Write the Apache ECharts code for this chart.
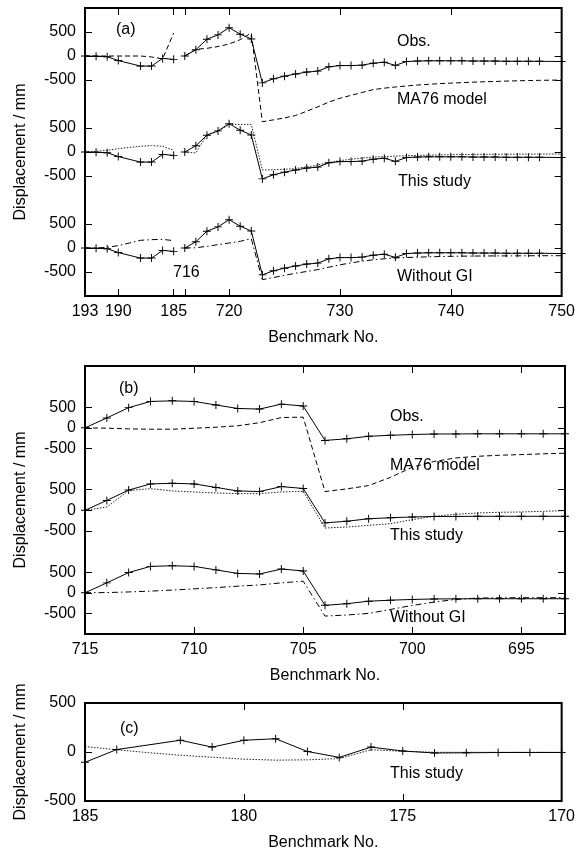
<!DOCTYPE html>
<html>
<head>
<meta charset="utf-8">
<script src="https://cdn.jsdelivr.net/npm/echarts@6/dist/echarts.min.js"></script>
<style>
html,body{margin:0;padding:0;background:#fff;}
#chart{width:578px;height:852px;}
</style>
</head>
<body>
<div id="chart"></div>
<script>
// ---------------- Panel (a) ----------------
const bmA = [193,192,191,190,188,187,186,185,
  716,717,718,719,720,721,722,723,724,725,726,727,728,729,730,731,732,733,734,735,736,737,738,739,740,741,742,743,744,745,746,747,748,750];
const obsA = [0,-5,-15,-95,-210,-210,-50,-70,
  0,130,350,440,590,455,355,-560,-475,-420,-375,-335,-315,-225,-200,-200,-190,-150,-130,-195,-115,-105,-100,-100,-100,-100,-105,-105,-105,-110,-110,-110,-110,-115];
const ma76A = [0,0,0,0,0,-20,-60,480,
  0,140,160,197,250,340,480,-1370,-1330,-1290,-1240,-1150,-1060,-960,-880,-820,-760,-700,-670,-645,-625,-605,-590,-575,-565,-555,-545,-537,-530,-523,-517,-512,-507,-500];
const thisA = [0,14,35,70,120,134,120,35,
  0,-20,360,430,575,575,575,-375,-370,-360,-345,-310,-270,-220,-180,-150,-125,-108,-95,-85,-77,-70,-65,-60,-56,-53,-51,-49,-47,-46,-45,-44,-43,-42];
const woGIA = [0,0,14,49,160,174,180,153,
  0,5,35,70,104,139,194,-660,-615,-570,-525,-490,-450,-400,-350,-310,-275,-245,-225,-208,-198,-190,-185,-178,-173,-170,-168,-166,-165,-164,-163,-162,-161,-160];
const xLabelsA = [193,190,185,720,730,740,750];
const xTicksA = [190,185,716,720,730,740];

// ---------------- Panel (b) ----------------
const bmB = [715,714,713,712,711,710,709,708,707,706,705,704,703,702,701,700,699,698,697,696,695,694,693];
const obsB = [0,240,490,640,655,640,555,470,455,575,530,-305,-265,-205,-180,-162,-150,-148,-145,-145,-145,-145,-145];
const ma76B = [0,-8,-25,-33,-33,-10,15,50,125,250,260,-1545,-1480,-1400,-1200,-955,-815,-730,-690,-665,-648,-630,-615];
const thisB = [0,80,480,525,470,445,420,405,405,445,460,-430,-405,-365,-325,-225,-145,-97,-65,-48,-40,-24,-8];
const woGIB = [0,5,20,40,65,95,125,160,190,240,280,-565,-540,-500,-405,-307,-226,-161,-129,-121,-120,-120,-120];
const xLabelsB = [715,710,705,700,695];

// ---------------- Panel (c) ----------------
const bmC = [185,184,182,181,180,179,178,177,176,175,174,173,172,171,170];
const obsC = [-105,25,120,50,120,135,5,-55,50,10,-10,-8,-5,-5,-5];
const bmCm = [185,184,183,182,181,180,179,178,177,176,175,174,173,172,171,170];
const thisC = [55,23,-7,-33,-53,-73,-83,-80,-67,23,7,-3,-3,-3,-3,-3];
const xLabelsC = [185,180,175,170];

const yLabelsGroup = [-500,0,500];
const groupOffsets = [0,2000,4000];

// ---------------- helpers ----------------
const FONT = "'Liberation Sans', Arial, Helvetica, sans-serif";
// broken axis of panel (a): 193..185 then 716..750
const toUA = b => (b >= 700 ? b - 707 : 193 - b);
const fromUA = u => (u <= 8 ? 193 - u : u + 707);

function build(bms, vals, offset, mapX, broken) {
  const out = [];
  for (let i = 0; i < bms.length; i++) {
    if (broken && i > 0 && (bms[i] >= 700) !== (bms[i-1] >= 700)) {
      out.push([(mapX(bms[i]) + mapX(bms[i-1])) / 2, null]);
    }
    out.push([mapX(bms[i]), vals[i] + offset]);
  }
  return out;
}
const ident = b => b;
const PLUS = 'path://M8.8,0 H11.2 V8.8 H20 V11.2 H11.2 V20 H8.8 V11.2 H0 V8.8 H8.8 Z';

function obsSeries(data) {
  return {type:'line', data, symbol:PLUS, symbolSize:8,
    showSymbol:true, connectNulls:false, lineStyle:{color:'#000', width:1},
    itemStyle:{color:'#000'}, z:5, silent:true, animation:false};
}
function modelSeries(data, dash, color) {
  return {type:'line', data, showSymbol:false, symbol:'none',
    connectNulls:false, lineStyle:{color:color||'#000', width:1, type:dash}, z:4, silent:true, animation:false};
}
const DASH = [5,3];
const DOT = [1.5,1.5];
const DASHDOT = [6,3,1.5,3];

const groupLabelVals = [];
groupOffsets.forEach(o => yLabelsGroup.forEach(v => groupLabelVals.push(v + o)));
const groupFmt = v => String((((v + 1000) % 2000) + 2000) % 2000 - 1000);

const tickStyle = {inside:true, length:7, lineStyle:{color:'#000', width:1}};
const labelStyle = {color:'#000', fontSize:16, fontFamily:FONT};

function xPair(gi, min, max, inverse, labelVals, tickVals, fmt, nameGap) {
  return [
    {type:'value', gridIndex:gi, min, max, inverse, position:'bottom',
     axisLine:{show:false, onZero:false}, splitLine:{show:false},
     axisTick:Object.assign({customValues:tickVals}, tickStyle),
     axisLabel:Object.assign({customValues:labelVals, formatter:fmt, margin:8, showMinLabel:true, showMaxLabel:true}, labelStyle),
     name:'Benchmark No.', nameLocation:'middle', nameGap,
     nameTextStyle:{color:'#000', fontSize:16, fontFamily:FONT}},
    {type:'value', gridIndex:gi, min, max, inverse, position:'top',
     axisLine:{show:false, onZero:false}, splitLine:{show:false},
     axisTick:Object.assign({customValues:tickVals}, tickStyle),
     axisLabel:{show:false}}
  ];
}
function yPair(gi, min, max, labelVals, tickVals, fmt) {
  return [
    {type:'value', gridIndex:gi, min, max, position:'left',
     axisLine:{show:false, onZero:false}, splitLine:{show:false},
     axisTick:Object.assign({customValues:tickVals}, tickStyle),
     axisLabel:Object.assign({customValues:labelVals, formatter:fmt, margin:9, showMinLabel:true, showMaxLabel:true}, labelStyle),
     name:'Displacement / mm', nameLocation:'middle', nameRotate:90, nameGap:56,
     nameTextStyle:{color:'#000', fontSize:16, fontFamily:FONT}},
    {type:'value', gridIndex:gi, min, max, position:'right',
     axisLine:{show:false, onZero:false}, splitLine:{show:false},
     axisTick:Object.assign({customValues:tickVals}, tickStyle),
     axisLabel:{show:false}}
  ];
}

const xAxes = [].concat(
  xPair(0, 0, 43, false, xLabelsA.map(toUA), xTicksA.map(toUA), v => String(fromUA(Math.round(v))), 34),
  xPair(1, 693, 715, true, xLabelsB, xLabelsB, v => String(v), 34),
  xPair(2, 170, 185, true, xLabelsC, [180,175], v => String(v), 34)
);
const yAxes = [].concat(
  yPair(0, -1000, 5000, groupLabelVals, groupLabelVals, groupFmt),
  yPair(1, -1000, 5500, groupLabelVals, groupLabelVals, groupFmt),
  yPair(2, -500, 500, yLabelsGroup, yLabelsGroup, v => String(v))
);

const series = [];
function onAxes(s, i){ s.xAxisIndex = i; s.yAxisIndex = i; return s; }

series.push(onAxes(modelSeries(build(bmA, ma76A, 4000, toUA, true), DASH), 0));
series.push(onAxes(modelSeries(build(bmA, thisA, 2000, toUA, true), DOT, '#222'), 0));
series.push(onAxes(modelSeries(build(bmA, woGIA, 0, toUA, true), DASHDOT), 0));
groupOffsets.forEach(o => series.push(onAxes(obsSeries(build(bmA, obsA, o, toUA, true)), 0)));

series.push(onAxes(modelSeries(build(bmB, ma76B, 4000, ident, false), DASH), 2));
series.push(onAxes(modelSeries(build(bmB, thisB, 2000, ident, false), DOT, '#222'), 2));
series.push(onAxes(modelSeries(build(bmB, woGIB, 0, ident, false), DASHDOT), 2));
groupOffsets.forEach(o => series.push(onAxes(obsSeries(build(bmB, obsB, o, ident, false)), 2)));

series.push(onAxes(modelSeries(build(bmCm, thisC, 0, ident, false), DOT, '#222'), 4));
series.push(onAxes(obsSeries(build(bmC, obsC, 0, ident, false)), 4));

const gridBase = {show:true, borderColor:'#000', borderWidth:2, backgroundColor:'transparent', left:85, right:13, containLabel:false};
const grids = [
  Object.assign({}, gridBase, {top:8, height:288}),
  Object.assign({}, gridBase, {top:366, height:268}),
  Object.assign({}, gridBase, {top:703, height:100})
];

function txt(x, y, s) {
  return {type:'text', x, y, silent:true, z:10,
    style:{text:s, fill:'#000', fontSize:16, fontFamily:FONT, align:'left', verticalAlign:'middle'}};
}
const graphic = [
  txt(116, 30, '(a)'), txt(397, 42, 'Obs.'), txt(397, 100, 'MA76 model'),
  txt(398, 182, 'This study'), txt(397, 277, 'Without GI'), txt(173, 273, '716'),
  txt(119, 389, '(b)'), txt(390, 417, 'Obs.'), txt(390, 466, 'MA76 model'),
  txt(390, 536, 'This study'), txt(390, 618, 'Without GI'),
  txt(120, 729, '(c)'), txt(390, 774, 'This study')
];

const chart = echarts.init(document.getElementById('chart'), null, {renderer:'canvas'});
chart.setOption({
  animation:false,
  backgroundColor:'#fff',
  grid:grids,
  xAxis:xAxes,
  yAxis:yAxes,
  series,
  graphic
});
</script>
</body>
</html>
